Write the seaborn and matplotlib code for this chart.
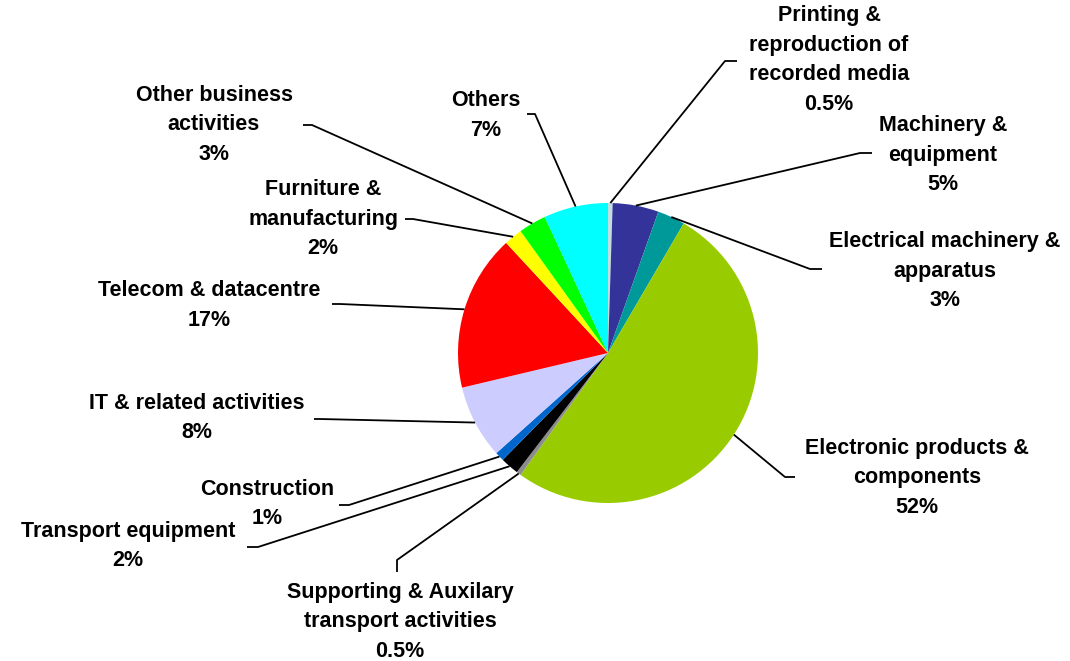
import matplotlib
matplotlib.use("Agg")
import matplotlib.pyplot as plt
import seaborn as sns
import numpy as np

# Sector shares (clockwise from 12 o'clock)
sectors = [
    "Printing &\nreproduction of\nrecorded media",
    "Machinery &\nequipment",
    "Electrical machinery &\napparatus",
    "Electronic products &\ncomponents",
    "Supporting & Auxilary\ntransport activities",
    "Transport equipment",
    "Construction",
    "IT & related activities",
    "Telecom & datacentre",
    "Furniture &\nmanufacturing",
    "Other business\nactivities",
    "Others",
]
shares = [0.5, 5, 3, 52, 0.5, 2, 1, 8, 17, 2, 3, 7]
share_labels = ["0.5%", "5%", "3%", "52%", "0.5%", "2%", "1%", "8%", "17%", "2%", "3%", "7%"]
colors = ["#C3DEDE", "#333399", "#009999", "#99CC00", "#8C8C8C", "#000000",
          "#0066CC", "#CCCCFF", "#FF0000", "#FFFF00", "#00FF00", "#00FFFF"]

# Layout in pixel coordinates (y measured from top)
W, H = 1070, 661
label_pos = [(829, 21), (943, 131), (945, 247), (917, 454), (400, 598), (128, 537),
             (267, 495), (197, 409), (209, 296), (323, 195), (214, 101), (486, 106)]
leader_elbow = [(725, 61), (860, 153), (810, 269), (785, 477), (397, 560), (258, 547),
                (349, 505), (320, 419), (340, 304), (413, 219), (312, 125), (535, 114)]
leader_end = [(737, 61), (872, 153), (822, 269), (795, 477), (397, 572), (247, 547),
              (339, 505), (314, 419), (332, 304), (405, 219), (303, 125), (527, 114)]
line_step = 29.5

sns.set_theme(style="white")
plt.rcParams['font.family'] = ['Liberation Sans', 'DejaVu Sans']

fig = plt.figure(figsize=(W / 100, H / 100), dpi=100)
ax = fig.add_axes([0, 0, 1, 1])

center = (608, H - 353)
radius = 150
wedges, _ = ax.pie(shares, colors=colors, startangle=90, counterclock=False,
                   center=center, radius=radius, wedgeprops=dict(linewidth=0))
ax.set_aspect('auto')
ax.set_xlim(0, W)
ax.set_ylim(0, H)
ax.axis('off')

for w, name, pct, (lx, ly), (ex, ey), (tx, ty) in zip(
        wedges, sectors, share_labels, label_pos, leader_elbow, leader_end):
    ang = np.deg2rad((w.theta1 + w.theta2) / 2)
    sx = center[0] + radius * np.cos(ang)
    sy = center[1] + radius * np.sin(ang)
    ax.plot([sx, ex, tx], [sy, H - ey, H - ty], color='black', lw=1.3,
            solid_capstyle='butt', zorder=3)
    for i, line in enumerate(name.split("\n") + [pct]):
        ax.text(lx, H - (ly + i * line_step), line, ha='center', va='baseline',
                fontsize=15.5, fontweight='bold', color='black', zorder=4)

fig.savefig("out.png", dpi=100, facecolor='white')
